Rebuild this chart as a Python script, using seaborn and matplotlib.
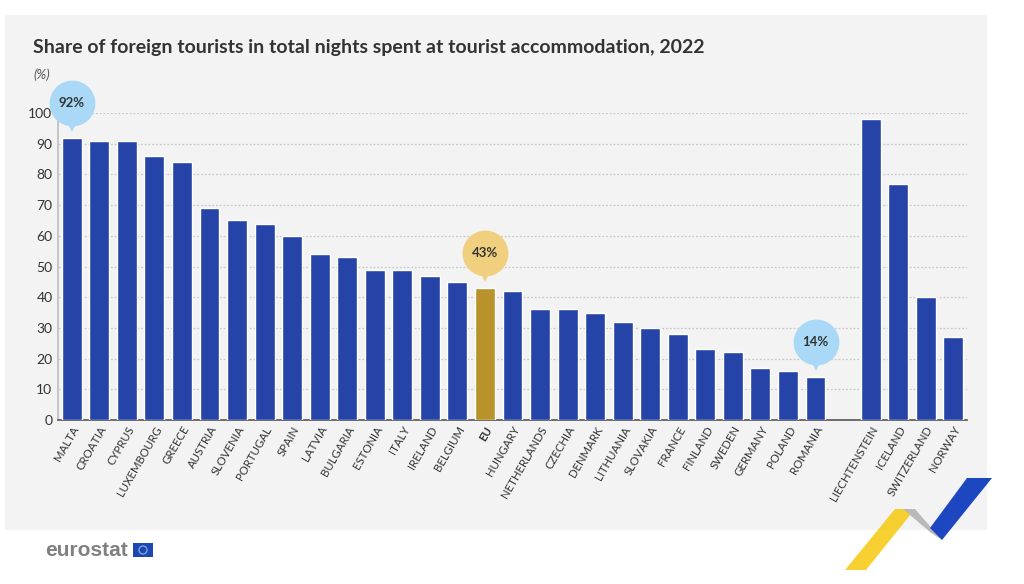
import numpy as np
import pandas as pd
import seaborn as sns
import matplotlib.pyplot as plt
from matplotlib.patches import Rectangle, Polygon, Ellipse
from matplotlib.transforms import offset_copy

# Data
eu_countries = ['MALTA', 'CROATIA', 'CYPRUS', 'LUXEMBOURG', 'GREECE', 'AUSTRIA', 'SLOVENIA',
                'PORTUGAL', 'SPAIN', 'LATVIA', 'BULGARIA', 'ESTONIA', 'ITALY', 'IRELAND',
                'BELGIUM', 'EU', 'HUNGARY', 'NETHERLANDS', 'CZECHIA', 'DENMARK', 'LITHUANIA',
                'SLOVAKIA', 'FRANCE', 'FINLAND', 'SWEDEN', 'GERMANY', 'POLAND', 'ROMANIA']
eu_shares = [92, 91, 91, 86, 84, 69, 65, 64, 60, 54, 53, 49, 49, 47, 45, 43, 42, 36, 36, 35,
             32, 30, 28, 23, 22, 17, 16, 14]
efta_countries = ['LIECHTENSTEIN', 'ICELAND', 'SWITZERLAND', 'NORWAY']
efta_shares = [98, 77, 40, 27]
highlights = {'MALTA': '#a9d9f6', 'EU': '#f0cf7f', 'ROMANIA': '#a9d9f6'}

blue = '#2644a8'
gold = '#b8922a'
text_col = '#333333'

df = pd.DataFrame({
    'country': eu_countries + efta_countries,
    'share': eu_shares + efta_shares,
})
df['kind'] = np.where(df['country'] == 'EU', 'eu', 'country')
order = eu_countries + [' '] + efta_countries

sns.set_theme(style='white')
plt.rcParams['font.family'] = ['Lato', 'DejaVu Sans']

fig = plt.figure(figsize=(10.24, 5.84), dpi=100)
fig.patch.set_facecolor('white')
# light grey panel
fig.patches.append(Rectangle((5 / 1024, 1 - 530 / 584), 982 / 1024, 515 / 584,
                             transform=fig.transFigure, facecolor='#f3f3f3',
                             edgecolor='none', zorder=-5))

ax = fig.add_axes([58 / 1024, 164 / 584, 909 / 1024, 307 / 584])
ax.set_facecolor('none')
ax.set_zorder(2)

sns.barplot(data=df, x='country', y='share', hue='kind', order=order,
            palette={'country': blue, 'eu': gold}, dodge=False, width=0.72,
            saturation=1, legend=False, ax=ax, zorder=3)

ax.set_xlim(-0.5, len(order) - 0.5)
ax.set_ylim(0, 100)
ax.set_yticks(range(0, 101, 10))
ax.set_xlabel('')
ax.set_ylabel('')
ax.yaxis.grid(True, color='#c8c8c8', linestyle=(0, (1.5, 1.5)), linewidth=0.9, zorder=0)
ax.xaxis.grid(False)
ax.set_axisbelow(True)

for s in ['top', 'right']:
    ax.spines[s].set_visible(False)
ax.spines['left'].set_color('#bdbdbd')
ax.spines['left'].set_linewidth(1.2)
ax.spines['bottom'].set_color('#555555')
ax.spines['bottom'].set_linewidth(1.2)

ax.tick_params(axis='y', length=0, labelsize=10, labelcolor=text_col, pad=4)
ax.tick_params(axis='x', length=0, labelsize=8.2, labelcolor=text_col, pad=3)
ax.set_xticks(range(len(order)))
labels = ax.set_xticklabels(order, rotation=60, ha='right', rotation_mode='anchor')
for lab in labels:
    if lab.get_text() == 'EU':
        lab.set_fontweight('bold')
# small separators between bars
ax.set_xticks(np.arange(0.5, len(order) - 1, 1), minor=True)
ax.tick_params(axis='x', which='minor', direction='in', length=5, width=1, color='#aaaaaa')

# callout bubbles
for name, col in highlights.items():
    xi = order.index(name)
    val = df.loc[df['country'] == name, 'share'].iloc[0]
    tr_c = offset_copy(ax.transData, fig=fig, x=0, y=35 * 0.72, units='points')
    tr_t = offset_copy(ax.transData, fig=fig, x=0, y=12 * 0.72, units='points')
    ax.plot([xi], [val], marker='v', markersize=9, color=col, transform=tr_t,
            clip_on=False, zorder=5, markeredgewidth=0)
    ax.plot([xi], [val], marker='o', markersize=33, color=col, transform=tr_c,
            clip_on=False, zorder=6, markeredgewidth=0)
    ax.text(xi, val, f'{val}%', transform=tr_c, ha='center', va='center',
            fontsize=9.5, fontweight='bold', color=text_col, zorder=7)

fig.text(33 / 1024, 1 - 47 / 584,
         'Share of foreign tourists in total nights spent at tourist accommodation, 2022',
         fontsize=14, fontweight='bold', color=text_col, va='center', ha='left')
fig.text(33 / 1024, 1 - 75 / 584, '(%)', fontsize=9.5, style='italic', color='#555555',
         va='center', ha='left')

# eurostat logo
fig.text(45 / 1024, 1 - 550 / 584, 'eurostat', fontsize=15, fontweight='bold',
         color='#808080', va='center', ha='left', family=['Liberation Sans', 'DejaVu Sans'])
fig.patches.append(Rectangle((133 / 1024, 1 - 557 / 584), 20 / 1024, 14 / 584,
                             transform=fig.transFigure, facecolor='#1a48b0',
                             edgecolor='none', zorder=2))
fig.patches.append(Ellipse((143 / 1024, 1 - 550 / 584), 8 / 1024, 8 / 584,
                           transform=fig.transFigure, facecolor='none',
                           edgecolor='#7f9fd8', linewidth=1, zorder=3))


def px(points):
    return [(x / 1024, 1 - y / 584) for x, y in points]


fig.patches.append(Polygon(px([(845, 570), (895, 509), (915, 509), (866, 570)]),
                           transform=fig.transFigure, facecolor='#f6c80e', alpha=0.85,
                           edgecolor='none', zorder=2))
fig.patches.append(Polygon(px([(903, 509), (915, 509), (942, 540), (930, 532)]),
                           transform=fig.transFigure, facecolor='#b9b9b9',
                           edgecolor='none', zorder=2))
fig.patches.append(Polygon(px([(930, 528), (967, 478), (992, 478), (942, 540)]),
                           transform=fig.transFigure, facecolor='#1c47c0',
                           edgecolor='none', zorder=3))

fig.savefig('out.png', dpi=100, facecolor='white')
